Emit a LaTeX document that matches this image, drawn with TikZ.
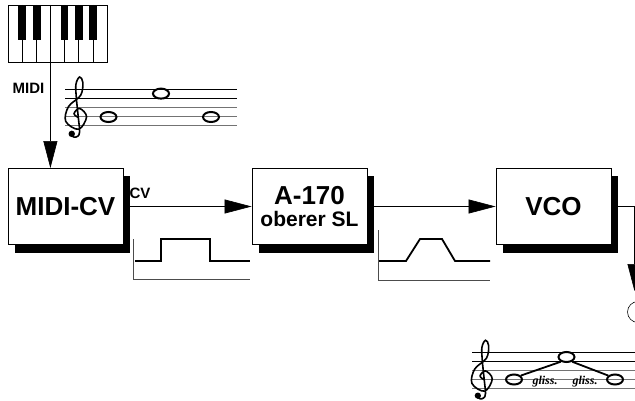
\documentclass[tikz,border=0pt]{standalone}
\usepackage{fontspec}
\setmainfont{Liberation Sans}
\newfontfamily\glissfont{Liberation Serif}
\usetikzlibrary{shapes.geometric,shadows,arrows.meta}
\tikzstyle{module} = [rectangle, minimum width=115pt, minimum height=76pt, text centered, align=center, draw=black, fill=white, line width=0.8pt, font=\bfseries\fontsize{26}{22}\selectfont, general shadow={fill=black, shadow xshift=7pt, shadow yshift=-8pt}]
\tikzstyle{arrow} = [line width=0.6pt, -{Triangle[length=27pt,width=14pt]}]
\tikzstyle{wave} = [line width=1.8pt, line join=miter]
\tikzstyle{sigaxis} = [line width=0.6pt, black!70]
\tikzstyle{sig} = [font=\bfseries\fontsize{15}{15}\selectfont, inner sep=0pt]
\tikzstyle{wholenote} = [ellipse, draw, line width=2pt, minimum width=16pt, minimum height=10pt, inner sep=0pt]
\tikzstyle{gliss} = [font=\glissfont\bfseries\itshape\fontsize{12}{12}\selectfont, inner sep=0pt]
\newcommand{\gclef}[3]{%
  \begin{scope}[shift={(#1,#2)}, xscale=#3, yscale=-#3]
    \draw[line width=1.6pt, line cap=round] plot[smooth, tension=0.6] coordinates {(0.3,0.95) (-0.1,1.35) (0.5,1.9) (1.25,1.0) (0.4,-0.35) (-1.0,0.5) (-0.7,2.1) (0.6,3.3) (0.85,4.7) (0.5,5.3) (0.1,4.5) (0.15,3.0) (0.35,1.0) (0.5,-0.6) (0.3,-1.1) (-0.1,-1.2) (-0.4,-1.0)};
    \fill (-0.35,-0.85) circle[radius=0.35];
  \end{scope}}

\begin{document}
\begin{tikzpicture}[x=1pt, y=-1pt, node distance=244pt]
\useasboundingbox (0,0) rectangle (635,401);

% keyboard
\draw[line width=0.6pt] (8,5) rectangle (107,62);
\foreach \k in {1,...,6}
  \draw[line width=0.6pt] (8+14.14*\k,5) -- (8+14.14*\k,62);
\foreach \a/\b in {18/26,33/41,61/68,75/83,89/97}
  \fill (\a,5) rectangle (\b,40);
\coordinate (kbdout) at (50.4,62);

\node (midi)[sig] at (28.5,88) {MIDI};

% staff 1
\foreach \i in {0,1}
  \draw[line width=0.6pt] (65,89+9.25*\i) -- (237,89+9.25*\i);
\foreach \i in {2,3,4}
  \draw[line width=1pt, black!55] (65,89+9.25*\i) -- (237,89+9.25*\i);
\gclef{75}{126}{9.25}
\node (n11)[wholenote] at (108.5,117) {};
\node (n12)[wholenote] at (161,93.6) {};
\node (n13)[wholenote] at (211,117) {};

\node (midicv)[module] at (65.5,206.5) {MIDI-CV};
\node (a170)[module, right of=midicv] {A-170\\{\fontsize{21}{22}\selectfont oberer SL}};
\node (vco)[module, right of=a170] {VCO};

\draw [arrow] (kbdout) -- (kbdout |- midicv.north);
\draw [arrow] (midicv) -- (a170);
\draw [arrow] (a170) -- (vco);
\node (cv)[sig] at (140,193) {CV};

\coordinate (vcoturn) at (634.5,206.5);
\coordinate (spkin) at (634.5,291);
\draw [arrow] (vco.east) -- (vcoturn) -- (spkin);
\node (spk)[circle, draw, line width=0.6pt, minimum size=21pt] at (638,312) {};

% gate
\draw[sigaxis] (133,239) -- (133,279) -- (250,279);
\draw[wave] (135,261) -- (161,261) -- (161,239) -- (210,239) -- (210,261) -- (250,261);

% slew
\draw[sigaxis] (378,230) -- (378,280) -- (490,280);
\draw[wave] (379,261) -- (406,261) -- (420,239) -- (442,239) -- (455,261) -- (490,261);

% staff 2
\foreach \i in {0,1}
  \draw[line width=0.6pt] (472,352+9*\i) -- (635,352+9*\i);
\foreach \i in {2,3,4}
  \draw[line width=1pt, black!55] (472,352+9*\i) -- (635,352+9*\i);
\gclef{481}{388}{9}
\node (n21)[wholenote] at (514,379.5) {};
\node (n22)[wholenote] at (566.5,357) {};
\node (n23)[wholenote] at (615,379.5) {};
\draw[line width=1.8pt] (n21.30) -- (n22.220);
\draw[line width=1.8pt] (n22.320) -- (n23.150);
\node (g1)[gliss] at (545,382) {gliss.};
\node (g2)[gliss] at (585,382) {gliss.};

\end{tikzpicture}
\end{document}
